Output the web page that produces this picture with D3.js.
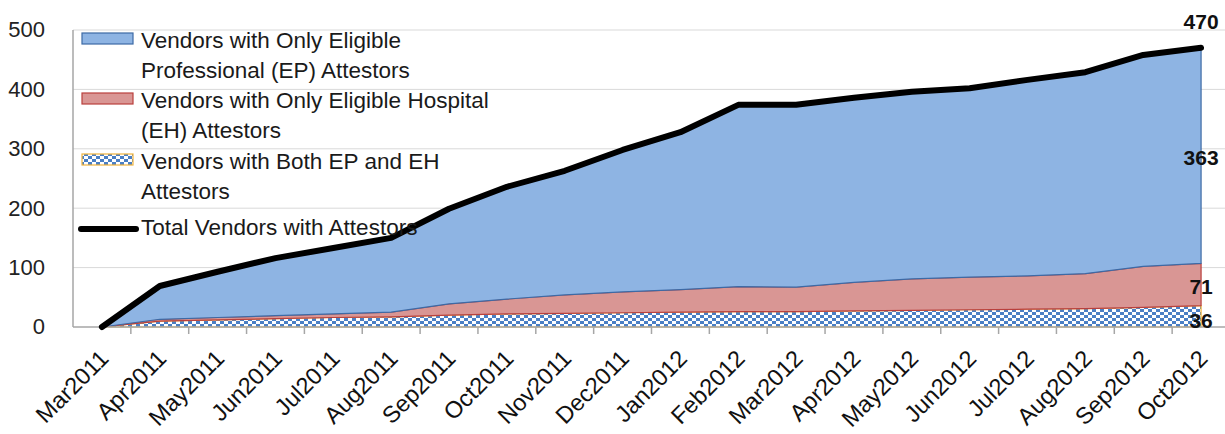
<!DOCTYPE html>
<html>
<head>
<meta charset="utf-8">
<script src="https://cdn.jsdelivr.net/npm/d3@7"></script>
<style>
  html, body { margin: 0; padding: 0; background: #fff; }
  svg { display: block; font-family: "Liberation Sans", Arial, sans-serif; }
</style>
</head>
<body>
<svg id="chart" width="1225" height="434"></svg>
<script>
// ---- Data ----
const months = ["Mar2011","Apr2011","May2011","Jun2011","Jul2011","Aug2011","Sep2011","Oct2011","Nov2011","Dec2011",
                "Jan2012","Feb2012","Mar2012","Apr2012","May2012","Jun2012","Jul2012","Aug2012","Sep2012","Oct2012"];
const bothVendors = [0, 10, 12, 14, 16, 17, 20, 22, 23, 24, 25, 26, 26, 27, 28, 29, 30, 31, 33, 36];
const ehVendors   = [0, 3, 4, 5, 6, 8, 19, 25, 31, 35, 38, 42, 41, 48, 53, 55, 56, 59, 69, 71];
const epVendors   = [0, 56, 77, 97, 111, 125, 160, 189, 209, 239, 265, 306, 307, 311, 315, 318, 330, 339, 356, 363];
const totalVendors = [0, 69, 93, 116, 133, 150, 199, 236, 263, 298, 328, 374, 374, 386, 396, 402, 416, 429, 458, 470];
const yTicks = [0, 100, 200, 300, 400, 500];

(function () {
const svg = d3.select("#chart");
const mLeft = 73, mRight = 1230, mTop = 30, mBottom = 327;

const x = d3.scaleBand().domain(months).range([mLeft, mRight]).padding(0);
const cx = d => x(d) + x.bandwidth() / 2;
const y = d3.scaleLinear().domain([0, 500]).range([mBottom, mTop]);

const table = months.map((m, i) => ({ month: m, both: bothVendors[i], eh: ehVendors[i], ep: epVendors[i], total: totalVendors[i] }));
const stacked = d3.stack().keys(["both", "eh", "ep"])(table);

// pattern for "both"
const defs = svg.append("defs");
const pat = defs.append("pattern").attr("id", "checker").attr("patternUnits", "userSpaceOnUse")
  .attr("width", 8).attr("height", 6);
pat.append("rect").attr("width", 8).attr("height", 6).attr("fill", "#ffffff");
pat.append("rect").attr("x", 0).attr("y", 0).attr("width", 4).attr("height", 3).attr("fill", "#4a7fc4");
pat.append("rect").attr("x", 4).attr("y", 3).attr("width", 4).attr("height", 3).attr("fill", "#4a7fc4");

// gridlines
svg.append("g").selectAll("line").data(yTicks.filter(t => t > 0)).join("line")
  .attr("x1", mLeft).attr("x2", 1225)
  .attr("y1", d => y(d)).attr("y2", d => y(d))
  .attr("stroke", "#d9d9d9").attr("stroke-width", 1);

// areas
const fills = { both: "url(#checker)", eh: "#d99694", ep: "#8eb4e3" };
const strokes = { both: "#f0b33c", eh: "#b9403d", ep: "#3d6aa5" };
const area = d3.area().x(d => cx(d.data.month)).y0(d => y(d[0])).y1(d => y(d[1])).curve(d3.curveLinear);
svg.append("g").selectAll("path").data(stacked).join("path")
  .attr("d", area)
  .attr("fill", d => fills[d.key])
  .attr("stroke", d => strokes[d.key])
  .attr("stroke-width", 1.2)
  .attr("stroke-linejoin", "round");

// axes lines
svg.append("line").attr("x1", mLeft).attr("x2", 1225).attr("y1", mBottom).attr("y2", mBottom)
  .attr("stroke", "#a6a6a6").attr("stroke-width", 1.5);
svg.append("line").attr("x1", mLeft).attr("x2", mLeft).attr("y1", mTop).attr("y2", mBottom)
  .attr("stroke", "#a6a6a6").attr("stroke-width", 1.5);
svg.append("g").selectAll("line").data(months.slice(1)).join("line")
  .attr("x1", d => x(d)).attr("x2", d => x(d))
  .attr("y1", mBottom).attr("y2", mBottom + 7)
  .attr("stroke", "#a6a6a6").attr("stroke-width", 1.5);

// total line
const line = d3.line().x(d => cx(d.month)).y(d => y(d.total)).curve(d3.curveLinear);
svg.append("path").datum(table).attr("d", line)
  .attr("fill", "none").attr("stroke", "#000").attr("stroke-width", 6)
  .attr("stroke-linejoin", "round").attr("stroke-linecap", "round");

// y tick labels
svg.append("g").selectAll("text").data(yTicks).join("text")
  .attr("x", 45).attr("y", d => y(d)).attr("dy", "0.34em")
  .attr("text-anchor", "end").attr("font-size", 22).attr("fill", "#222")
  .text(d => d);

// x tick labels
svg.append("g").selectAll("text").data(months).join("text")
  .attr("text-anchor", "end").attr("font-size", 23.5).attr("fill", "#111")
  .attr("transform", d => `translate(${cx(d) + 8},${360}) rotate(-45)`)
  .text(d => d);

// data labels for last point
const last = table[table.length - 1];
const lastS = stacked.map(s => s[s.length - 1]);
const lbl = svg.append("g").attr("font-size", 21).attr("font-weight", "bold").attr("fill", "#111").attr("text-anchor", "middle");
lbl.append("text").attr("x", cx(last.month)).attr("y", y(last.total) - 19).text(last.total);
lastS.forEach((s, i) => {
  lbl.append("text").attr("x", cx(last.month)).attr("y", y((s[0] + s[1]) / 2) + (i === 0 ? 4 : 2)).attr("dy", "0.35em")
    .text(s[1] - s[0]);
});

// legend
const leg = svg.append("g").attr("font-size", 22.5).attr("fill", "#1a1a1a");
const legItems = [
  { key: "ep", lines: ["Vendors with Only Eligible", "Professional (EP) Attestors"], base: 48 },
  { key: "eh", lines: ["Vendors with Only Eligible Hospital", "(EH) Attestors"], base: 108 },
  { key: "both", lines: ["Vendors with Both EP and EH", "Attestors"], base: 169 },
  { key: "total", lines: ["Total Vendors with Attestors"], base: 235 }
];
legItems.forEach(it => {
  if (it.key === "total") {
    leg.append("line").attr("x1", 81).attr("x2", 136).attr("y1", it.base - 6).attr("y2", it.base - 6)
      .attr("stroke", "#000").attr("stroke-width", 6).attr("stroke-linecap", "round");
  } else {
    leg.append("rect").attr("x", 82).attr("y", it.base - 15).attr("width", 51).attr("height", 11)
      .attr("fill", fills[it.key]).attr("stroke", strokes[it.key]).attr("stroke-width", 1.2);
  }
  it.lines.forEach((t, j) => {
    leg.append("text").attr("x", 141).attr("y", it.base + j * 30).text(t);
  });
});
})();
</script>
</body>
</html>
